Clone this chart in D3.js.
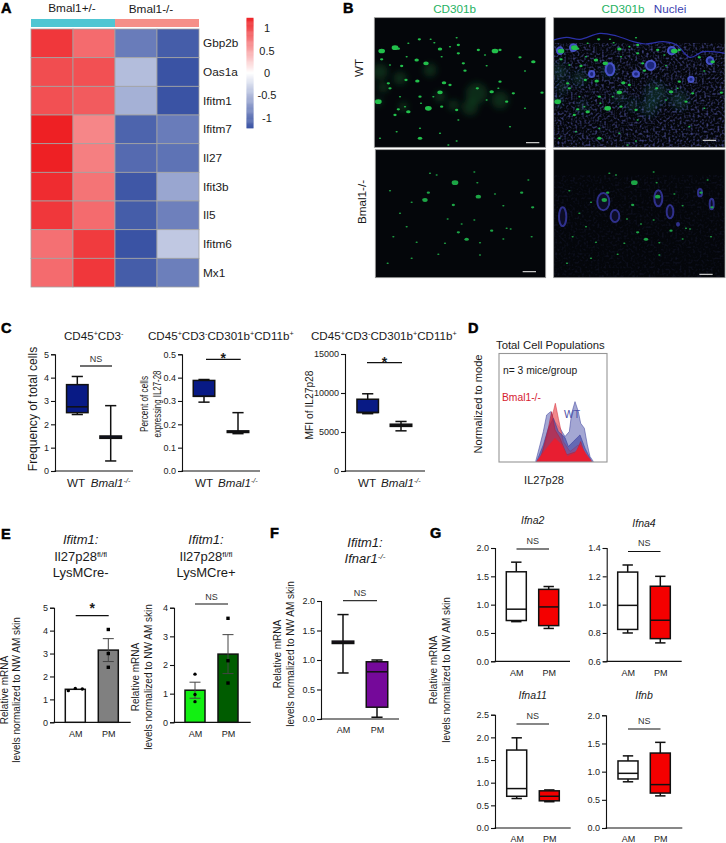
<!DOCTYPE html>
<html><head><meta charset="utf-8">
<script src="https://cdn.jsdelivr.net/npm/d3@7/dist/d3.min.js"></script>
<style>
html,body{margin:0;padding:0;background:#fff}
svg{display:block}
text{font-family:"Liberation Sans",Arial,sans-serif;fill:#1a1a1a}
</style></head><body>
<svg id="fig" width="726" height="843" viewBox="0 0 726 843"></svg>
<script>
// ---------- DATA ----------
const heatGenes = ["Gbp2b","Oas1a","Ifitm1","Ifitm7","Il27","Ifit3b","Il5","Ifitm6","Mx1"];
const heatGroups = ["Bmal1+/-","Bmal1-/-"];
const heatSample1 = [1.12,1.00,0.98,1.25,1.25,1.18,1.12,0.80,0.83];
const heatSample2 = [0.83,0.98,0.92,0.68,0.72,0.78,0.83,1.10,1.12];
const heatSample3 = [-0.95,-0.48,-0.57,-1.13,-1.08,-1.22,-1.18,-1.25,-1.18];
const heatSample4 = [-1.18,-1.25,-1.25,-0.95,-1.02,-0.65,-0.92,-0.40,-0.93];
const colorbarTicks = [1,0.5,0,-0.5,-1];

const amPm = ["AM","PM"];
const wtKo = ["WT","KO"];
// box summaries: low whisker, q1, median, q3, high whisker
const c1Wt = [2.42,2.5,2.75,3.7,4.05];
const c1Ko = [0.43,1.40,1.45,1.50,2.8];
const c2Wt = [0.295,0.32,0.32,0.388,0.392];
const c2Ko = [0.16,0.165,0.168,0.172,0.25];
const c3Wt = [7350,7500,7500,9200,9900];
const c3Ko = [5150,5720,5850,6000,6350];
const fAm = [0.78,1.28,1.30,1.32,1.77];
const fPm = [0.03,0.20,0.80,0.97,1.00];
const g1Am = [0.70,0.72,0.92,1.58,1.75];
const g1Pm = [0.58,0.63,0.96,1.27,1.32];
const g2Am = [0.80,0.825,0.995,1.23,1.28];
const g2Pm = [0.73,0.76,0.89,1.13,1.20];
const g3Am = [0.65,0.70,0.87,1.72,1.99];
const g3Pm = [0.58,0.60,0.70,0.82,0.84];
const g4Am = [0.82,0.87,0.97,1.19,1.28];
const g4Pm = [0.57,0.62,0.77,1.33,1.52];
// bars: mean, sem, replicate points
const e1Means = [1.44,3.15];
const e1Sem = [0,0.5];
const e1Dots = [[1.38,1.48,1.45],[4.05,3.0,2.4]];
const e2Means = [1.12,2.38];
const e2Sem = [0.28,0.68];
const e2Dots = [[1.68,0.97,0.72],[3.63,2.15,1.37]];
// flow histograms: [channel, count]
const histWtA = [[137,0],[150,50],[160,90],[170,140],[182,150],[195,120],[210,100],[225,75],[238,90],[245,145],[255,180],[265,150],[272,115],[283,100],[292,50],[300,15],[310,0]];
const histWtB = [[140,0],[160,50],[175,100],[190,130],[205,90],[225,72],[235,45],[250,60],[270,80],[285,40],[305,0]];
const histKoA = [[145,0],[165,50],[180,110],[190,150],[196,175],[205,130],[220,60],[240,30],[265,50],[275,35],[300,0]];
const histKoB = [[140,0],[170,40],[195,70],[215,50],[232,15],[255,25],[270,50],[290,20],[305,0]];
const histKoC = [[150,0],[175,100],[185,150],[195,95],[210,70],[230,20],[260,30],[272,60],[285,20],[300,0]];
// micrograph features: [x, y, size]
const spotsWt = [[125,153,6],[165,143,6],[175,146,3],[238,118,3],[205,130,2],[272,118,2],[350,113,2],[283,128,2],[300,147,4],[330,140,2],[355,135,3],[355,160,3],[415,150,3],[465,153,6],[480,150,3],[435,165,2],[540,172,3],[580,185,4],[230,180,4],[258,190,5],[185,198,3],[125,178,3],[150,195,2],[370,190,3],[375,212,3],[440,197,2],[555,213,2],[232,243,4],[145,250,3],[198,240,3],[312,248,4],[330,255,3],[200,170,2],[305,170,2],[480,245,3],[300,277,5],[280,290,2],[240,290,3],[243,310,2],[165,345,3],[205,335,4],[175,328,3],[265,325,6],[305,320,3],[350,330,3],[412,265,3],[455,275,4],[475,265,2],[520,280,3],[606,278,3],[440,300,2],[500,305,3],[555,325,2],[150,265,3],[115,305,6],[240,415,4],[325,435,2],[170,395,2],[350,423,2],[300,400,2],[510,380,2],[120,415,2],[240,385,2],[355,360,2],[195,320,2],[180,290,2]];
const hazeWt = [[120,215,24],[180,235,20],[130,262,16],[270,210,20],[410,280,32],[480,300,26],[390,322,24],[115,305,12],[340,315,16],[300,290,16],[190,320,14]];
const spotsKo = [[345,548,6],[265,578,3],[255,600,5],[415,590,5],[545,578,3],[465,582,2],[340,615,3],[215,607,2],[490,617,2],[578,622,3],[403,516,2],[412,548,2],[290,525,2],[270,520,2],[150,572,2],[200,680,2],[365,672,2],[355,697,3],[323,657,2],[403,660,2],[455,692,3],[500,685,2],[512,687,2],[160,710,2],[380,718,4],[315,730,2],[295,763,2],[230,727,2],[420,728,2],[215,775,2],[143,790,2],[420,765,2],[565,540,2],[180,640,2],[490,717,2],[575,710,2]];
const skinLine = [[641,120],[680,112],[720,118],[780,100],[830,108],[880,125],[915,132],[970,125],[1010,135],[1050,172],[1090,155],[1155,160]];
const folliclesWt = [[660,152,9,10],[700,143,10,10],[810,208,13,18],[932,196,14,14],[755,222,8,9],[888,222,9,8],[1053,238,8,8],[995,152,11,11],[1110,182,10,10]];
const folliclesKo = [[790,605,18,26],[825,648,13,18],[668,650,11,28],[955,595,12,24],[990,635,10,20],[1115,612,6,16],[1080,578,6,11],[1014,673,3,4]];

// ---------- HELPERS ----------
const svg = d3.select("#fig");
const defs = svg.append("defs");
defs.append("filter").attr("id","soft").attr("x","-50%").attr("y","-50%").attr("width","200%").attr("height","200%")
  .append("feGaussianBlur").attr("stdDeviation",0.5);
defs.append("filter").attr("id","haze").attr("x","-80%").attr("y","-80%").attr("width","260%").attr("height","260%")
  .append("feGaussianBlur").attr("stdDeviation",3);
const fSpeck = defs.append("filter").attr("id","speck").attr("x","0").attr("y","0").attr("width","100%").attr("height","100%");
fSpeck.append("feTurbulence").attr("type","fractalNoise").attr("baseFrequency",0.45).attr("numOctaves",1).attr("seed",4);
fSpeck.append("feColorMatrix").attr("type","matrix").attr("values","0 0 0 0 0.11  0 0 0 0 0.12  0 0 0 0 0.5  2.6 0 0 0 -1.2");
fSpeck.append("feGaussianBlur").attr("stdDeviation",0.5);

function txt(x,y,s,o={}){
  const t = svg.append("text").attr("x",x).attr("y",y).text(s)
    .attr("font-size",o.size||10).attr("text-anchor",o.anchor||"start");
  if(o.bold) t.attr("font-weight","bold");
  if(o.italic) t.attr("font-style","italic");
  if(o.fill) t.style("fill",o.fill);
  return t;
}
function rich(x,y,parts,o={}){
  const t = svg.append("text").attr("x",x).attr("y",y)
    .attr("font-size",o.size||10).attr("text-anchor",o.anchor||"start");
  parts.forEach(p=>{
    const s = t.append("tspan").text(p[0]);
    if(p[1]==="sup") s.attr("baseline-shift","super").attr("font-size","62%");
    if(p[2]) s.attr("font-style","italic");
  });
  return t;
}
function rot(x,y,s,o={}){
  const t = svg.append("text").attr("transform",`translate(${x},${y}) rotate(-90)`).text(s)
    .attr("font-size",o.size||10).attr("text-anchor","middle");
  if(o.len) t.attr("textLength",o.len).attr("lengthAdjust","spacingAndGlyphs");
  if(o.fill) t.style("fill",o.fill);
  return t;
}
function frame(p){
  const g = svg.append("g");
  const y = d3.scaleLinear().domain(p.domain).range([p.bottom,p.top]);
  const x = d3.scalePoint().domain(p.cats).range([p.c1,p.c2]);
  const ay = g.append("g").attr("transform",`translate(${p.ax},0)`)
    .call(d3.axisLeft(y).tickValues(p.ticks).tickSizeOuter(0).tickSize(4).tickFormat(d3.format(p.fmt||"d")));
  ay.selectAll("path,line").attr("stroke","#111").attr("stroke-width",1.1);
  ay.selectAll("text").attr("font-size",9).attr("font-family","Liberation Sans").attr("dx",1).style("fill","#222");
  g.append("line").attr("x1",p.ax-0.5).attr("x2",p.right).attr("y1",p.bottom).attr("y2",p.bottom).attr("stroke","#111").attr("stroke-width",1.2);
  if(p.labels!==false){
    const ax = g.append("g").attr("transform",`translate(0,${p.bottom})`)
      .call(d3.axisBottom(x).tickSize(0).tickPadding(8));
    ax.select("path").remove();
    ax.selectAll("text").attr("font-size",9).attr("font-family","Liberation Sans").style("fill","#222");
  }
  return {g,x,y,p};
}
function box(f,cat,v,fill,w=21.5,sw=1.5,medW=1.5){
  const cx=f.x(cat), y=f.y, g=f.g.append("g");
  const cap=w*0.52;
  g.append("line").attr("x1",cx).attr("x2",cx).attr("y1",y(v[0])).attr("y2",y(v[4])).attr("stroke","#111").attr("stroke-width",sw);
  [v[0],v[4]].forEach(d=>g.append("line").attr("x1",cx-cap/2).attr("x2",cx+cap/2).attr("y1",y(d)).attr("y2",y(d)).attr("stroke","#111").attr("stroke-width",sw));
  g.append("rect").attr("x",cx-w/2).attr("width",w).attr("y",y(v[3])).attr("height",y(v[1])-y(v[3])).attr("fill",fill).attr("stroke","#111").attr("stroke-width",sw);
  g.append("line").attr("x1",cx-w/2).attr("x2",cx+w/2).attr("y1",y(v[2])).attr("y2",y(v[2])).attr("stroke","#111").attr("stroke-width",medW);
}
function bars(f,means,sem,dots,fills){
  const y=f.y, base=f.p.bottom, w=20;
  f.p.cats.forEach((c,i)=>{
    const cx=f.x(c);
    f.g.append("rect").attr("x",cx-w/2).attr("width",w).attr("y",y(means[i])).attr("height",base-y(means[i])).attr("fill",fills[i]).attr("stroke","#111").attr("stroke-width",1.5);
    if(sem[i]>0){
      const a=y(means[i]-sem[i]), b=y(means[i]+sem[i]);
      f.g.append("line").attr("x1",cx).attr("x2",cx).attr("y1",a).attr("y2",b).attr("stroke","#444").attr("stroke-width",1);
      [a,b].forEach(q=>f.g.append("line").attr("x1",cx-5.5).attr("x2",cx+5.5).attr("y1",q).attr("y2",q).attr("stroke","#444").attr("stroke-width",1));
    }
  });
}
function sig(x1,x2,y,label,o={}){
  svg.append("line").attr("x1",x1).attr("x2",x2).attr("y1",y).attr("y2",y).attr("stroke",o.color||"#111").attr("stroke-width",o.sw||1.2);
  const c=(x1+x2)/2;
  if(label==="*") txt(c,y+(o.dy??4),"*",{size:14,bold:true,anchor:"middle"});
  else txt(c,y-(o.dy??4.5),label,{size:9,anchor:"middle",fill:"#333"});
}

// ---------- PANEL LETTERS ----------
[["A",1,13],["B",343,13],["C",1,333],["D",468,333],["E",1,539],["F",270,538],["G",430,538]]
  .forEach(d=>txt(d[1],d[2],d[0],{size:14.5,bold:true,fill:"#000"}).attr("stroke","#000").attr("stroke-width",0.5));

// ---------- A: HEATMAP ----------
const heatCols = [heatSample1,heatSample2,heatSample3,heatSample4];
const xHeat = d3.scaleBand().domain(d3.range(4)).range([31,199]);
const yHeat = d3.scaleBand().domain(heatGenes).range([29,287]);
const heatColor = d3.scaleLinear().domain([-1.25,0,1.25]).range(["#3a53a4","#ffffff","#ee2024"]);
const gHeat = svg.append("g");
heatCols.forEach((col,i)=>{
  gHeat.selectAll(null).data(col).join("rect")
    .attr("x",xHeat(i)).attr("width",xHeat.bandwidth())
    .attr("y",(d,j)=>yHeat(heatGenes[j])).attr("height",yHeat.bandwidth())
    .attr("fill",d=>heatColor(d)).attr("stroke","#a3a3a3").attr("stroke-width",0.8);
});
gHeat.selectAll(null).data(heatGroups).join("rect")
  .attr("x",(d,i)=>xHeat(i*2)).attr("width",xHeat.bandwidth()*2)
  .attr("y",19).attr("height",8)
  .attr("fill",(d,i)=>["#4fc6d3","#f58f88"][i]);
txt(72,12,heatGroups[0],{size:11.8,anchor:"middle"});
txt(151,13,heatGroups[1],{size:11.8,anchor:"middle"});
heatGenes.forEach(g=>txt(203,yHeat(g)+yHeat.bandwidth()/2+4,g,{size:11.8}));
const yBar = d3.scaleLinear().domain([-1.235,1.235]).range([128,18]);
gHeat.selectAll(null).data(d3.range(-1.235,1.235,0.025)).join("rect")
  .attr("x",246.5).attr("width",7).attr("y",d=>yBar(d+0.025)).attr("height",d=>yBar(d)-yBar(d+0.025)+0.4).attr("fill",d=>heatColor(d));
colorbarTicks.forEach(d=>txt(267,yBar(d)+4,String(d),{size:11,anchor:"middle"}));

// ---------- B: MICROGRAPHS ----------
const cropX = d3.scaleLinear().domain([0,1158]).range([340,726]);
const cropY = d3.scaleLinear().domain([0,870]).range([0,290]);
const panels = [
 {x1:103,x2:617,y1:53,y2:442,bar:[558,428],id:"p1"},
 {x1:641,x2:1155,y1:53,y2:442,bar:[1088,421],id:"p2"},
 {x1:106,x2:617,y1:449,y2:833,bar:[548,815],id:"p3"},
 {x1:641,x2:1155,y1:449,y2:833,bar:[1078,823],id:"p4"}];
panels.forEach(p=>{
  defs.append("clipPath").attr("id",p.id).append("rect")
    .attr("x",cropX(p.x1)).attr("y",cropY(p.y1)).attr("width",cropX(p.x2)-cropX(p.x1)).attr("height",cropY(p.y2)-cropY(p.y1));
  p.g = svg.append("g").attr("clip-path",`url(#${p.id})`);
  p.g.append("rect").attr("x",cropX(p.x1)).attr("y",cropY(p.y1)).attr("width",cropX(p.x2)-cropX(p.x1)).attr("height",cropY(p.y2)-cropY(p.y1)).attr("fill","#04060a");
});
function speck(p,op){
  p.g.append("rect").attr("x",cropX(p.x1)).attr("y",cropY(p.y1)+26).attr("width",cropX(p.x2)-cropX(p.x1)).attr("height",cropY(p.y2)-cropY(p.y1)-26)
    .attr("filter","url(#speck)").attr("opacity",op);
}
function haze(p,list,dx,col,op){
  p.g.append("g").attr("filter","url(#haze)").selectAll("circle").data(list).join("circle")
    .attr("cx",d=>cropX(d[0]+dx)).attr("cy",d=>cropY(d[1])).attr("r",d=>d[2]/3).attr("fill",col).attr("opacity",op);
}
function spots(p,list,dx,col,op){
  p.g.append("g").attr("filter","url(#soft)").selectAll("ellipse").data(list).join("ellipse")
    .attr("cx",d=>cropX(d[0]+dx)).attr("cy",d=>cropY(d[1]))
    .attr("rx",d=>Math.max(1,d[2]/1.8)).attr("ry",d=>Math.max(0.7,d[2]/2.6))
    .attr("fill",col).attr("opacity",op);
}
function follicles(p,list,fill,stroke,op){
  p.g.append("g").attr("filter","url(#soft)").selectAll("ellipse").data(list).join("ellipse")
    .attr("cx",d=>cropX(d[0])).attr("cy",d=>cropY(d[1])).attr("rx",d=>d[2]/3).attr("ry",d=>d[3]/3)
    .attr("fill",fill).attr("stroke",stroke).attr("stroke-width",2).attr("opacity",op);
}
haze(panels[0],hazeWt,0,"#1b7a34",0.32);
spots(panels[0],spotsWt,0,"#22c04c",1);
speck(panels[1],0.75);
haze(panels[1],hazeWt,538,"#1a7060",0.28);
panels[1].g.append("path").datum(skinLine)
  .attr("d",d3.line().x(d=>cropX(d[0])).y(d=>cropY(d[1])).curve(d3.curveCatmullRom))
  .attr("fill","none").attr("stroke","#2c30a8").attr("stroke-width",1.2).attr("filter","url(#soft)");
follicles(panels[1],folliclesWt,"#1e2a80","#4a55d0",0.95);
spots(panels[1],spotsWt,538,"#22c04c",1);
spots(panels[2],spotsKo,0,"#1fae48",0.95);
speck(panels[3],0.14);
follicles(panels[3],folliclesKo,"#0c0c28","#33369a",0.9);
spots(panels[3],spotsKo,538,"#1fae48",0.95);
panels.forEach(p=>{
  svg.append("rect").attr("x",cropX(p.x1)).attr("y",cropY(p.y1)).attr("width",cropX(p.x2)-cropX(p.x1)).attr("height",cropY(p.y2)-cropY(p.y1))
    .attr("fill","none").attr("stroke","#8c8c8c").attr("stroke-width",0.8);
  p.g.append("line").attr("x1",cropX(p.bar[0])).attr("x2",cropX(p.bar[0]+40)).attr("y1",cropY(p.bar[1])).attr("y2",cropY(p.bar[1])).attr("stroke","#c4c4c4").attr("stroke-width",1.2);
});
txt(454.6,13,"CD301b",{size:11.7,anchor:"middle",fill:"#1eb262"});
txt(623,13,"CD301b",{size:11.7,anchor:"middle",fill:"#1eb262"});
txt(670,13,"Nuclei",{size:11.7,anchor:"middle",fill:"#3b3fb0"});
rot(363,68,"WT",{size:11.7});
rot(366,202,"Bmal1-/-",{size:11.7});

// ---------- C ----------
const c1 = frame({cats:wtKo,domain:[0,5],ticks:[0,1,2,3,4,5],ax:55,top:354.3,bottom:471,right:133,c1:77.3,c2:110.7,labels:false});
box(c1,"WT",c1Wt,"#081a85"); box(c1,"KO",c1Ko,"#081a85");
const c2 = frame({cats:wtKo,domain:[0,0.5],ticks:[0,0.1,0.2,0.3,0.4,0.5],fmt:".1f",ax:182,top:354.3,bottom:471,right:260,c1:204,c2:238,labels:false});
box(c2,"WT",c2Wt,"#081a85"); box(c2,"KO",c2Ko,"#081a85");
const c3 = frame({cats:wtKo,domain:[0,15000],ticks:[0,5000,10000,15000],ax:345,top:354,bottom:471,right:425,c1:367.7,c2:401,labels:false});
box(c3,"WT",c3Wt,"#081a85"); box(c3,"KO",c3Ko,"#081a85");
rich(64,340,[["CD45"],["+","sup"],["CD3"],["-","sup"]],{size:11.6});
rich(148,340,[["CD45"],["+","sup"],["CD3"],["-","sup"],["CD301b"],["+","sup"],["CD11b"],["+","sup"]],{size:11.6});
rich(311,340,[["CD45"],["+","sup"],["CD3"],["-","sup"],["CD301b"],["+","sup"],["CD11b"],["+","sup"]],{size:11.6});
[[76,90.7],[204,218],[367,381]].forEach(d=>{
  txt(d[0],487,"WT",{size:11.6,anchor:"middle"});
  rich(d[1],487,[["Bmal1",null,true],["-/-","sup",true]],{size:11.6});
});
rot(36.5,409,"Frequency of total cells",{size:12.1});
rot(147.7,404,"Percent of cells",{size:10,len:56});
rot(161,404,"expressing IL27-28",{size:10,len:67});
rot(312.5,405,"MFI  of IL27p28",{size:10,len:69});
sig(80,112,366,"NS");
sig(206,240.7,359.3,"*");
sig(367,402,362.7,"*");

// ---------- D ----------
const xHist = d3.scaleLinear().domain([0,375]).range([490,615]);
const yHist = d3.scaleLinear().domain([0,200]).range([461.5,395]);
const areaHist = d3.area().x(d=>xHist(d[0])).y0(yHist(0)).y1(d=>yHist(d[1]));
const histLayers = [[histWtA,"#5a5fae","#4a4fa5",0.55],[histKoA,"#ef6a6f","#d9404a",0.8],[histWtB,"#3a3fa0","#3a3fa0",0.6],[histKoC,"#cf2035","#b02040",0.6],[histKoB,"#ed1c2e","#ed1c2e",0.92]];
histLayers.forEach(l=>svg.append("path").datum(l[0]).attr("d",areaHist).attr("fill",l[1]).attr("fill-opacity",l[3]).attr("stroke",l[2]).attr("stroke-width",0.6));
svg.append("rect").attr("x",499).attr("y",353.5).attr("width",108).attr("height",108.5).attr("fill","none").attr("stroke","#969696").attr("stroke-width",1.1);
txt(496,349,"Total Cell Populations",{size:11.3});
txt(503,374,"n= 3 mice/group",{size:10.3});
txt(502,401,"Bmal1-/-",{size:10.3,fill:"#d6202f"});
txt(564,418,"WT",{size:10.3,fill:"#4d50a8"});
txt(544,484,"IL27p28",{size:11,anchor:"middle"});
rot(481.5,404,"Normalized to mode",{size:10.5,len:99});

// ---------- E ----------
const e1 = frame({cats:amPm,domain:[0,5],ticks:[0,1,2,3,4,5],ax:54,top:607.7,bottom:722.3,right:130.7,c1:75.3,c2:108.3});
bars(e1,e1Means,e1Sem,e1Dots,["#ffffff","#808080"]);
const e2 = frame({cats:amPm,domain:[0,4],ticks:[0,1,2,3,4],ax:174,top:607.7,bottom:722.3,right:250.7,c1:195,c2:228});
bars(e2,e2Means,e2Sem,e2Dots,["#12f012","#005c00"]);
[[e1,e1Dots,[[-7,0,7],[0,0,0]]],[e2,e2Dots,[[0,0,0],[0,0,0]]]].forEach(([f,dots,offs])=>{
  dots.forEach((arr,i)=>arr.forEach((v,j)=>{
    const cx=f.x(amPm[i])+offs[i][j], cy=f.y(v);
    if(i===1) f.g.append("rect").attr("x",cx-1.7).attr("y",cy-1.7).attr("width",3.4).attr("height",3.4).attr("fill","#000");
    else f.g.append("circle").attr("cx",cx).attr("cy",cy).attr("r",1.7).attr("fill","#000");
  }));
});
txt(80.7,544,"Ifitm1:",{size:13,anchor:"middle",italic:true});
rich(80.7,561,[["Il27p28"],["fl/fl","sup"]],{size:13,anchor:"middle"});
txt(80.7,577,"LysMCre-",{size:13,anchor:"middle"});
txt(206,544,"Ifitm1:",{size:13,anchor:"middle",italic:true});
rich(206,561,[["Il27p28"],["fl/fl","sup"]],{size:13,anchor:"middle"});
txt(206,577,"LysMCre+",{size:13,anchor:"middle"});
rot(7.5,690,"Relative mRNA",{size:10});
rot(20,690,"levels normalized to NW AM skin",{size:10});
rot(138.5,677,"Relative mRNA",{size:10});
rot(151.5,677,"levels normalized to NW AM skin",{size:10});
sig(75.7,108.7,615.7,"*",{dy:-3});
sig(195,228,604,"NS");

// ---------- F ----------
const fp = frame({cats:amPm,domain:[0,2],ticks:[0,0.5,1,1.5,2],fmt:".1f",ax:321,top:601,bottom:719,right:399,c1:343,c2:377});
box(fp,"AM",fAm,"#75099a"); box(fp,"PM",fPm,"#75099a");
txt(365,546.7,"Ifitm1:",{size:13,anchor:"middle",italic:true});
rich(365,562.7,[["Ifnar1",null,true],["-/-","sup",true]],{size:13,anchor:"middle"});
rot(280.5,654,"Relative mRNA",{size:10});
rot(293.5,654,"levels normalized to NW AM skin",{size:10});
sig(343,377,600.7,"NS",{color:"#333",dy:5});

// ---------- G ----------
const gOpts = {cats:amPm};
const gp1 = frame({...gOpts,domain:[0,2],ticks:[0,0.5,1,1.5,2],fmt:".1f",ax:495,top:548,bottom:661.3,right:570,c1:516.3,c2:548.7});
box(gp1,"AM",g1Am,"#fff",20); box(gp1,"PM",g1Pm,"#f40000",20);
const gp2 = frame({...gOpts,domain:[0.6,1.4],ticks:[0.6,0.8,1,1.2,1.4],fmt:".1f",ax:606.7,top:548,bottom:661.3,right:681.7,c1:627.7,c2:660.3});
box(gp2,"AM",g2Am,"#fff",20); box(gp2,"PM",g2Pm,"#f40000",20);
const gp3 = frame({...gOpts,domain:[0,2.5],ticks:[0,0.5,1,1.5,2,2.5],fmt:".1f",ax:495,top:714.7,bottom:828,right:570.7,c1:516.7,c2:549.3});
box(gp3,"AM",g3Am,"#fff",20); box(gp3,"PM",g3Pm,"#f40000",20);
const gp4 = frame({...gOpts,domain:[0,2],ticks:[0,0.5,1,1.5,2],fmt:".1f",ax:606,top:715.3,bottom:828,right:682.3,c1:628,c2:660.3});
box(gp4,"AM",g4Am,"#fff",20); box(gp4,"PM",g4Pm,"#f40000",20);
txt(532.7,524,"Ifna2",{size:10.5,anchor:"middle",italic:true});
txt(644,527,"Ifna4",{size:10.5,anchor:"middle",italic:true});
txt(532.7,699,"Ifna11",{size:10.5,anchor:"middle",italic:true});
txt(644,699,"Ifnb",{size:10.5,anchor:"middle",italic:true});
rot(437,670,"Relative mRNA",{size:10});
rot(450,670,"levels normalized to NW AM skin",{size:10});
sig(516.5,549,549,"NS",{color:"#555",sw:1.6,dy:5.5});
sig(628,660.5,551.5,"NS",{dy:5.5});
sig(516.5,549,724,"NS",{dy:5.5});
sig(628,660.5,729,"NS",{dy:5.5});
</script>
</body></html>
